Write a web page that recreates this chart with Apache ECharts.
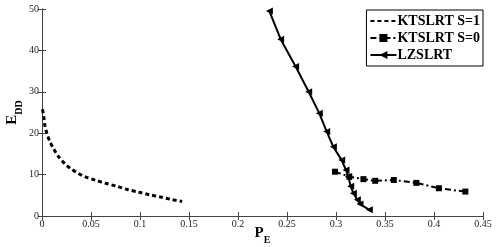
<!DOCTYPE html>
<html><head><meta charset="utf-8">
<script src="https://cdn.jsdelivr.net/npm/echarts@6/dist/echarts.min.js"></script>
<style>html,body{margin:0;padding:0;background:#fff}#c{width:499px;height:247px}</style>
</head><body><div id="c"></div>
<script>
const xTicks = [0, 0.05, 0.1, 0.15, 0.2, 0.25, 0.3, 0.35, 0.4, 0.45];
const yTicks = [0, 10, 20, 30, 40, 50];
const seriesNames = ['KTSLRT S=1', 'KTSLRT S=0', 'LZSLRT'];
const s1X = [0.0005, 0.002, 0.003, 0.005, 0.008, 0.012, 0.017, 0.023, 0.029, 0.037, 0.045, 0.055, 0.065, 0.076, 0.087, 0.098, 0.110, 0.121, 0.132, 0.143];
const s1Y = [25.8, 23.7, 21.8, 20.0, 18.0, 16.2, 14.3, 12.7, 11.5, 10.3, 9.4, 8.6, 7.9, 7.2, 6.4, 5.8, 5.1, 4.6, 4.0, 3.5];
const s0X = [0.299, 0.3136, 0.328, 0.340, 0.359, 0.382, 0.405, 0.432];
const s0Y = [10.7, 9.5, 8.9, 8.5, 8.7, 8.0, 6.7, 5.9];
const lzX = [0.232, 0.2435, 0.2588, 0.2721, 0.283, 0.2905, 0.2973, 0.3058, 0.3102, 0.3126, 0.315, 0.3177, 0.3218, 0.3245, 0.334];
const lzY = [49.5, 42.7, 36.1, 30.0, 24.8, 20.4, 16.7, 13.5, 11.1, 9.5, 7.2, 5.5, 3.9, 2.9, 1.5];

const zip = (a, b) => a.map((v, i) => [v, b[i]]);
const font = 'Liberation Serif';
const chart = echarts.init(document.getElementById('c'));
const axisLine = {show: true, lineStyle: {color: '#444', width: 1}};
const tickIn = {show: true, inside: true, length: 4, lineStyle: {color: '#444'}};
chart.setOption({
  animation: false,
  grid: {left: 42, top: 9, width: 441, height: 207, containLabel: false, outerBoundsMode: 'none'},
  legend: {
    orient: 'vertical', right: 16, top: 10,
    data: [
      {name: seriesNames[0], itemStyle: {opacity: 0}},
      {name: seriesNames[1]},
      {name: seriesNames[2]}
    ],
    backgroundColor: '#fff', borderColor: '#000', borderWidth: 1,
    padding: [4, 3, 4, 3], itemGap: 3, itemWidth: 26, itemHeight: 10,
    textStyle: {fontFamily: font, fontWeight: 'bold', fontSize: 14, color: '#000', padding: [0, 0, 0, -4]}
  },
  xAxis: [{
    type: 'value', min: 0, max: 0.45, interval: 0.05,
    axisLine: axisLine, axisTick: tickIn, splitLine: {show: false},
    axisLabel: {fontFamily: font, fontSize: 10, color: '#222', margin: 3,
      formatter: v => { const t = xTicks.find(x => Math.abs(x - v) < 1e-9); return t === undefined ? '' : String(t); }},
    name: '{a|P}{b|E}', nameLocation: 'middle', nameGap: 10, nameMoveOverlap: false,
    nameTextStyle: {rich: {
      a: {fontFamily: font, fontWeight: 'bold', fontSize: 15, color: '#000'},
      b: {fontFamily: font, fontWeight: 'bold', fontSize: 10, color: '#000', verticalAlign: 'bottom', padding: [0, 0, -4, 0]}
    }}
  }, {
    type: 'value', min: 0, max: 0.45, interval: 0.05, position: 'top',
    axisLine: axisLine, axisTick: tickIn, axisLabel: {show: false}, splitLine: {show: false}
  }],
  yAxis: [{
    type: 'value', min: 0, max: 50, interval: 10,
    axisLine: axisLine, axisTick: tickIn, splitLine: {show: false},
    axisLabel: {fontFamily: font, fontSize: 10, color: '#222', margin: 3,
      formatter: v => { const t = yTicks.find(x => x === v); return t === undefined ? '' : String(t); }},
    name: '{a|E}{b|DD}', nameLocation: 'middle', nameGap: 22, nameRotate: 90, nameMoveOverlap: false,
    nameTextStyle: {rich: {
      a: {fontFamily: font, fontWeight: 'bold', fontSize: 15, color: '#000'},
      b: {fontFamily: font, fontWeight: 'bold', fontSize: 10, color: '#000', verticalAlign: 'bottom', padding: [0, 0, -4, 0]}
    }}
  }, {
    type: 'value', min: 0, max: 50, interval: 10, position: 'right',
    axisLine: axisLine, axisTick: tickIn, axisLabel: {show: false}, splitLine: {show: false}
  }],
  series: [{
    name: seriesNames[0], type: 'line', data: zip(s1X, s1Y), smooth: 0.3,
    showSymbol: false, symbol: 'none', color: '#000',
    lineStyle: {color: '#000', width: 3, type: [4, 3]}
  }, {
    name: seriesNames[1], type: 'line', data: zip(s0X, s0Y),
    symbol: 'rect', symbolSize: 6, color: '#000',
    itemStyle: {color: '#000'},
    lineStyle: {color: '#000', width: 2, type: [6, 3, 2, 3]}
  }, {
    name: seriesNames[2], type: 'line', data: zip(lzX, lzY),
    symbol: 'triangle', symbolSize: 7, symbolRotate: 90, color: '#000',
    itemStyle: {color: '#000'},
    lineStyle: {color: '#000', width: 2}
  }]
});
</script></body></html>
